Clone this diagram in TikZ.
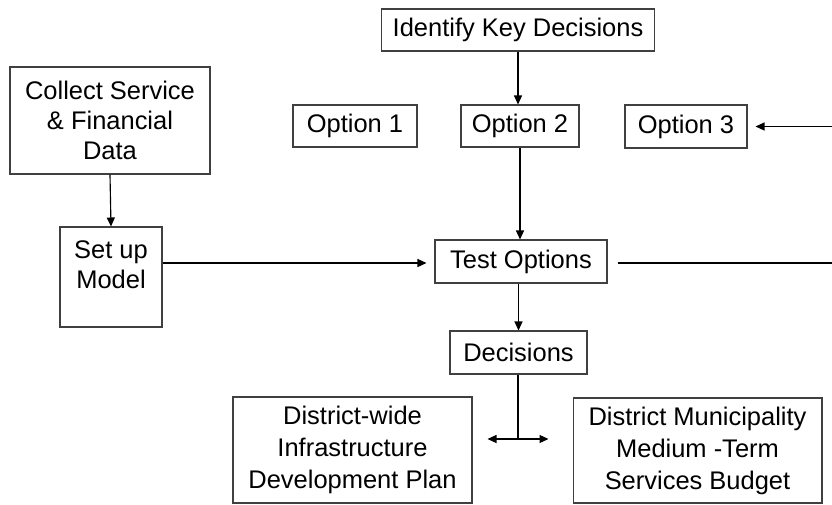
\documentclass[tikz,border=0pt]{standalone}
\usepackage{fontspec}
\setmainfont{Liberation Sans}
\usetikzlibrary{arrows.meta,positioning,calc}
\definecolor{BoxLine}{HTML}{404040}
\definecolor{LinkLine}{HTML}{000000}
\tikzset{
  blk/.style={rectangle,draw=BoxLine,line width=0.6pt,inner sep=0pt,
              align=center,font=\fontsize{14.5}{17}\selectfont},
  arr/.style={-{Triangle[length=0.18cm,width=0.16cm]},line width=0.65pt,color=LinkLine},
  darr/.style={{Triangle[length=0.18cm,width=0.16cm]}-{Triangle[length=0.18cm,width=0.16cm]},
               line width=0.65pt,color=LinkLine},
  lnk/.style={line width=0.65pt,color=LinkLine},
}
\begin{document}
\begin{tikzpicture}[x=0.02cm,y=-0.02cm]
  \useasboundingbox (0,0) rectangle (832,504);

  \node[blk,minimum width=5.46cm,minimum height=0.84cm] (ident) at (518,30) {Identify Key Decisions};

  \node[blk,minimum width=2.48cm,minimum height=0.84cm] (opt1) at (355,126) {Option 1};
  \node[blk,minimum width=2.36cm,minimum height=0.84cm] (opt2) at (520,126) {Option 2};
  \node[blk,minimum width=2.44cm,minimum height=0.86cm] (opt3) at (686,126.5) {Option 3};

  \node[blk,minimum width=4.0cm,minimum height=2.14cm] (collect) at (110,120.5)
    {Collect Service\\\& Financial\\Data};
  \node[blk,minimum width=2.04cm,minimum height=2.0cm] (setup) at (111,277)
    {\parbox[c][1.46cm][t]{1.9cm}{\centering Set up\\Model}};

  \node[blk,minimum width=3.44cm,minimum height=0.86cm] (test) at (521,261.5) {Test Options};
  \node[blk,minimum width=2.74cm,minimum height=0.86cm] (dec) at (518.5,352.5) {Decisions};

  \node[blk,minimum width=4.78cm,minimum height=2.12cm,font=\fontsize{14.5}{18.2}\selectfont]
    (dwide) at (352.5,450) {District-wide\\Infrastructure\\Development Plan};
  \node[blk,minimum width=4.98cm,minimum height=2.10cm,font=\fontsize{14.5}{18.2}\selectfont]
    (dmun) at (697.5,450.5) {District Municipality\\Medium -Term\\Services Budget};

  % loop back from testing to the options
  \coordinate (loopin)  at (832,263);
  \coordinate (loopout) at (832,126.5);
  \coordinate (split)   at (518,439);

  \draw[arr] (ident.south) -- (ident.south |- opt2.north);
  \draw[arr] (opt2.south) -- (opt2.south |- test.north);
  \draw[arr] (collect.south) -- (setup.north);
  \draw[arr,shorten >=0.16cm] (setup.east |- loopin) -- (test.west |- loopin);
  \draw[arr] (test.south -| dec.north) -- (dec.north);
  \draw[lnk,shorten <=0.2cm] (test.east |- loopin) -- (loopin);
  \draw[arr,shorten >=0.16cm] (loopout) -- (opt3.east);
  \draw[lnk] (dec.south -| split) -- (split);
  \draw[darr,shorten <=0.3cm,shorten >=0.48cm] (dwide.east |- split) -- (dmun.west |- split);

\end{tikzpicture}
\end{document}
